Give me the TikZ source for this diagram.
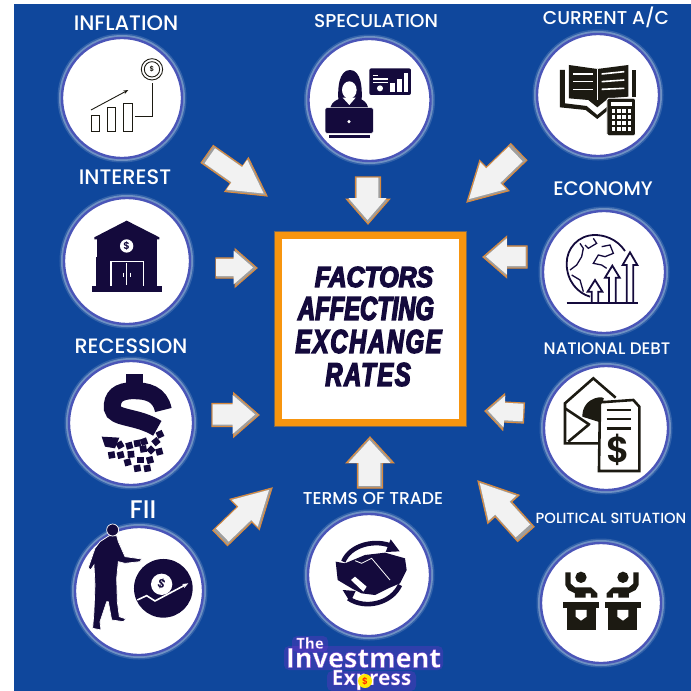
\documentclass[tikz,border=0pt]{standalone}
\usepackage{fontspec}
\usetikzlibrary{shapes.arrows,arrows.meta}
\newfontfamily\labelfont{Poppins Medium}
\newfontfamily\signfont{Poppins SemiBold}
\newfontfamily\titlefont[FakeStretch=0.72,FakeBold=4]{Liberation Sans}
\newfontfamily\logofont[BoldFeatures={FakeBold=1}]{Open Sans}
\definecolor{bgblue}{HTML}{0F479C}
\definecolor{ringblue}{HTML}{4A55B8}
\definecolor{boxorange}{HTML}{F7950F}
\definecolor{navyink}{HTML}{140A3C}
\definecolor{blackink}{HTML}{1C1A12}
\definecolor{arrowedge}{HTML}{D98A3D}
\definecolor{logoglow}{HTML}{7B2FD0}
\newcommand{\glowed}[1]{\special{pdf:bcolor [1 1 1] [0.48 0.18 0.81]}#1\special{pdf:ecolor}}
\tikzset{
  factor/.style={circle,fill=white,draw=ringblue,line width=2.4pt,inner sep=0pt,
    preaction={draw=white,opacity=.15,line width=9pt},
    preaction={draw=white,opacity=.3,line width=6pt}},
  factorlabel/.style={text=white,inner sep=0pt,font=\labelfont\fontsize{#1}{#1}\selectfont},
  flowarrow/.style={single arrow,anchor=tip,outer sep=0pt,inner xsep=0pt,fill=gray!75,draw=arrowedge,line width=1.1pt},
  flowtop/.style={single arrow,anchor=tip,outer sep=0pt,inner xsep=0pt,fill=gray!10,scale=.9},
  titleline/.style={text=navyink,inner sep=0pt,font=\titlefont\bfseries\itshape\fontsize{33}{33}\selectfont},
  logotext/.style={text=white,inner sep=0pt,font=\logofont},
  signtext/.style={inner sep=0pt,font=\signfont\fontsize{#1}{#1}\selectfont},
  zone/.style={scale=.3333,shift={#1}},
}
\newcommand{\podium}{
  \fill (655,770) rectangle (763,790);
  \fill (665,790) -- (752,790) -- (752,855) -- (665,855) -- cycle;
  \fill[white] (692,795) -- (725,795) -- (725,815) -- (708,827) -- (692,815) -- cycle;
  \fill (708,697) circle (17);
  \fill (661,682) -- (677,682) -- (677,716) -- (690,727) -- (738,727) -- (757,745) -- (757,758) -- (738,758) -- (738,745) -- (722,745) -- (722,758) -- (690,758) -- (690,745) -- (670,735) -- (661,720) -- cycle;
}
\begin{document}
\begin{tikzpicture}[x=1pt,y=-1pt]
  \useasboundingbox (0,0) rectangle (691,691);
  \fill[white] (0,0) rectangle (691,691);
  \fill[bgblue] (14,4) rectangle (691,691);

  % circles
  \foreach \nm/\x/\y/\d in {infl/122/98/120,spec/369.5/100/122,curr/598/95/122,
      inte/127/261/126,econ/604/272/122,rece/131/423/124,debt/606/428/124,
      fii/139/591/128,term/369/575/122,poli/601/603/120}
    \node[factor,minimum size=\d] (\nm) at (\x,\y) {};

  % centre box
  \node[rectangle,draw=boxorange,fill=white,line width=7pt,minimum width=184,minimum height=187,inner sep=0pt,
    preaction={draw=boxorange,opacity=.45,line width=9.5pt}] (centre) at (370.5,329) {};
  \node[titleline,xscale=1.19] (t1) at (374,277) {\fontsize{29}{29}\selectfont FACTORS};
  \node[titleline] (t2) at (366,308.5) {AFFECTING};
  \node[titleline] (t3) at (368.5,341.5) {\addfontfeature{LetterSpace=5}EXCHANGE};
  \node[titleline] (t4) at (368,374.5) {\addfontfeature{LetterSpace=5}RATES};

  % block arrows
  \foreach \nm/\x/\y/\ang/\len/\hw/\tw/\tip in {a1/267/196/-35/73/40/20/58,a2/368/224/-90/47/42/24/82,
      a3/467/202/-136/72/41/22/58,a4/257/268/0/41/37/19/82,a5/483/257/180/44/40/21/82,
      a6/259/415/0/47/43/22/82,a7/485/411/177/39/35/19/88,a8/272/488/44/72/41/20/58,
      a9/370/437/90/51/46/24/85,a10/478/481/132/71.5/41/21/58}{
    \pgfmathsetmacro\ext{(\hw-\tw)/2}
    \pgfmathsetmacro\half{\tw/2}
    \node[flowarrow,rotate=\ang,minimum height=\len,inner ysep=\half,single arrow head extend=\ext,single arrow tip angle=\tip] (\nm) at (\x,\y) {};
    \node[flowtop,rotate=\ang,minimum height=\len,inner ysep=\half,single arrow head extend=\ext,single arrow tip angle=\tip] (\nm-in) at ({\x-3.5*cos(\ang)-.5},{\y+3.5*sin(\ang)-.5}) {};
  }

  % labels
  \node[factorlabel=21] (linfl) at (126,23) {INFLATION};
  \node[factorlabel=18.6] (lspec) at (376,21) {SPECULATION};
  \node[factorlabel=18.6] (lcurr) at (606,17) {CURRENT A/C};
  \node[factorlabel=21] (linte) at (125,177) {INTEREST};
  \node[factorlabel=19.6] (lecon) at (603,189) {ECONOMY};
  \node[factorlabel=20.8] (lrece) at (131,346) {RECESSION};
  \node[factorlabel=16.7] (ldebt) at (607,349) {NATIONAL DEBT};
  \node[factorlabel=25.5] (lfii) at (143,510) {FII};
  \node[factorlabel=17.2] (lterm) at (373,498) {TERMS OF TRADE};
  \node[factorlabel=14.7] (lpoli) at (611,518) {POLITICAL SITUATION};

  % inflation icon
  \begin{scope}[zone={(0,0)},draw=blackink,line width=.9pt]
    \draw (273,347) rectangle (298,393);
    \draw (322,322) rectangle (347,393);
    \draw (371,309) rectangle (396,393);
    \draw[-{Stealth[length=5pt]}] (273,330) -- (385,270);
    \draw (405,350) -- (457,350) -- (457,250);
    \draw (456,208) circle (32);
    \draw (456,208) circle (23);
    \node[signtext=7,text=blackink] (coin) at (456,208) {\$};
  \end{scope}

  % speculation icon
  \begin{scope}[shift={(315,55)},scale=.3333,navyink]
    \fill[navyink] (72,155) .. controls (65,100) and (72,45) .. (105,45) .. controls (138,45) and (145,100) .. (138,155) -- cycle;
    \fill[navyink] (45,165) .. controls (48,135) and (75,128) .. (103,128) .. controls (135,128) and (158,135) .. (160,165) -- cycle;
    \fill[white] (103,105) ellipse (22 and 26);
    \fill[white] (83,128) -- (122,128) -- (103,150) -- cycle;
    \fill[navyink,draw=white,line width=.6pt,rounded corners=2pt] (30,158) rectangle (175,235);
    \fill[navyink] (42,240) rectangle (165,248);
    \fill[white] (102,200) circle (5);
    \fill[navyink,rounded corners=2pt] (163,40) rectangle (288,120);
    \fill[white] (173,60) rectangle (190,64);
    \fill[white] (173,70) rectangle (218,74);
    \fill[white] (173,80) rectangle (218,84);
    \fill[white] (195,100) circle (9);
    \fill[white] (225,85) rectangle (240,110);
    \fill[white] (247,72) rectangle (260,110);
    \fill[white] (266,55) rectangle (278,110);
  \end{scope}

  % current account icon
  \begin{scope}[zone={(1035,0)}]
    \fill[blackink] (672,195) -- (757,207) -- (850,195) -- (850,290) -- (790,295) -- (757,322) -- (730,300) -- (672,295) -- cycle;
    \foreach \ya/\yb in {222/215,245/240,268/265}{
      \draw[white,line width=1.6pt] (685,\ya) -- (745,\ya);
      \draw[white,line width=1.6pt] (770,\ya) -- (838,\yb);
    }
    \draw[white,line width=1.4pt] (757,207) -- (757,300);
    \fill[blackink] (645,210) -- (660,210) -- (660,310) -- (725,318) -- (757,345) -- (790,318) -- (790,330) -- (757,357) -- (722,330) -- (645,322) -- cycle;
    \fill[blackink] (860,210) rectangle (872,290);
    \fill[blackink,draw=white,line width=.8pt,rounded corners=1.5pt] (786,295) rectangle (872,407);
    \fill[white] (798,305) rectangle (862,318);
    \foreach \i in {0,1,2,3} \foreach \j in {0,1,2,3}
      \fill[white] (800+\i*16,326+\j*18) rectangle (811+\i*16,338+\j*18);
  \end{scope}

  % bank icon
  \begin{scope}[zone={(0,0)}]
    \fill[navyink] (283,712) -- (380,662) -- (478,712) -- (478,718) -- (283,718) -- cycle;
    \fill[navyink] (290,718) rectangle (470,770);
    \fill[navyink] (288,770) rectangle (472,858);
    \fill[navyink] (275,858) rectangle (487,877);
    \fill[white] (380,738) circle (20);
    \node[signtext=10,text=navyink] (bankcoin) at (380,738) {\$};
    \draw[white,line width=1.5pt] (333,858) -- (333,785) -- (430,785) -- (430,858);
    \draw[white,line width=1pt] (381,790) -- (381,855);
    \draw[white,line width=1pt] (370,818) -- (370,832) (392,818) -- (392,832);
  \end{scope}

  % economy icon
  \begin{scope}[shift={(560,225)},scale=.3333,draw=navyink,line width=1.8pt,line join=miter]
    \draw (195,78) .. controls (170,40) and (130,30) .. (105,30) .. controls (55,30) and (20,70) .. (20,115) .. controls (20,170) and (55,205) .. (90,215);
    \draw[line width=1.3pt] (60,55) -- (70,70) -- (65,95) -- (50,120) -- (30,135);
    \draw[line width=1.3pt] (100,40) -- (110,55) -- (85,70) -- (75,60);
    \draw[line width=1.3pt] (125,65) -- (150,60) -- (160,85) -- (135,95) -- (115,90) -- (100,115) -- (125,120) -- (140,130);
    \draw[line width=1.3pt] (35,150) -- (60,165) -- (70,200);
    \foreach \c/\t/\b in {105/165/200,157/122/158,210/82/120}
      \draw[fill=white] (\c-10,233) -- (\c-10,\b) -- (\c-22,\b) -- (\c,\t) -- (\c+22,\b) -- (\c+10,\b) -- (\c+10,233);
    \draw (20,235) -- (235,235);
  \end{scope}

  % recession icon
  \begin{scope}[shift={(0,345)},scale=.3333]
    \fill[navyink] (378,87) rectangle (428,122);
    \draw[navyink,line width=17pt] (490,195) .. controls (480,145) and (440,137) .. (400,137) .. controls (355,137) and (335,155) .. (337,190) .. controls (342,222) and (410,212) .. (472,250);
    \fill[navyink] (305,275) -- (358,278) -- (345,310) -- (315,305) -- cycle;
    \foreach \x/\y/\r in {360/300/30,388/302/15,412/295/10,432/290/20,480/268/25,468/290/40,430/312/10,453/315/45,478/320/15,335/330/10,362/330/15,393/328/5,383/352/15,422/345/0,450/345/15,412/370/10,442/370/10}
      \fill[navyink,shift={(\x,\y)},rotate=\r] (-10,-10) rectangle (10,10);
  \end{scope}

  % national debt icon
  \begin{scope}[shift={(345,345)},scale=.3333,draw=blackink,line width=2.6pt]
    \draw (765,295) -- (660,295) -- (660,175) -- (745,100) -- (812,158);
    \draw (660,190) -- (735,240) (670,290) -- (730,240);
    \fill[blackink] (712,215) .. controls (712,150) and (790,150) .. (775,165) -- (775,235) -- cycle;
    \draw[fill=white] (765,172) -- (865,165) -- (883,185) -- (883,378) -- (762,378) -- cycle;
    \draw (785,195) -- (858,195) (785,222) -- (858,222) (785,250) -- (858,250);
    \node[signtext=36,text=blackink] (debtsign) at (820,315) {\$};
  \end{scope}

  % fii icon
  \begin{scope}[shift={(0,345)},scale=.3333]
    \fill[navyink,draw=white,line width=.7pt] (328,572) -- (350,572) -- (355,590) -- (375,635) -- (425,642) -- (420,650) -- (375,655) -- (355,650) -- (350,700) -- (352,770) -- (358,815) -- (378,822) -- (370,830) -- (335,825) -- (325,770) -- (320,770) -- (300,830) -- (303,855) -- (278,850) -- (282,800) -- (285,720) -- (282,660) -- (272,675) -- (265,668) -- (285,610) -- (300,590) -- cycle;
    \fill[navyink,draw=white,line width=.7pt] (338,555) circle (18);
    \fill[navyink] (490,730) circle (88);
    \fill[white] (485,718) circle (32);
    \node[signtext=12,text=navyink,rotate=-20] (fiicoin) at (485,718) {\$};
    \draw[white,line width=1.6pt,-{Stealth[length=6pt]}] (412,765) -- (440,752) -- (465,768) -- (565,715);
  \end{scope}

  % terms of trade icon
  \begin{scope}[shift={(325,530)},scale=.3333]
    \draw[navyink,line width=4.6pt] (55,95) .. controls (75,45) and (150,25) .. (205,50);
    \fill[navyink] (197,28) -- (224,64) -- (182,66) -- cycle;
    \draw[navyink,line width=4.6pt] (225,165) .. controls (200,220) and (120,240) .. (70,205);
    \fill[navyink] (53,180) -- (92,183) -- (76,217) -- cycle;
    \fill[navyink] (32,95) -- (60,100) -- (120,75) -- (180,68) -- (240,85) -- (245,120) -- (225,160) -- (190,175) -- (150,195) -- (110,190) -- (80,175) -- (38,150) -- cycle;
    \draw[white,line width=.8pt] (90,92) -- (110,100) -- (140,85) -- (195,150);
    \fill[white] (78,150) -- (90,140) -- (125,170) -- (115,185) -- cycle;
  \end{scope}

  % political icon
  \begin{scope}[shift={(345,345)},scale=.3333,blackink]
    \podium
    \begin{scope}[cm={-1,0,0,1,(1542,0)}]
      \podium
    \end{scope}
  \end{scope}

  % logo
  \fill[logoglow,opacity=.3,rounded corners=5pt] (292,636) rectangle (328,652);
  \fill[logoglow,opacity=.3,rounded corners=5pt] (284,646) rectangle (443,670);
  \fill[logoglow,opacity=.3,rounded corners=5pt] (327,671) rectangle (416,691);
  \node[logotext,font=\logofont\bfseries\fontsize{15}{15}\selectfont] (logo1) at (310,643) {\glowed{The}};
  \node[logotext,font=\logofont\bfseries\fontsize{27}{27}\selectfont] (logo2) at (363.5,658) {\glowed{Investment}};
  \node[logotext,font=\logofont\bfseries\fontsize{21}{21}\selectfont] (logo3) at (371.5,680) {\glowed{Express}};
  \fill[yellow!90!orange] (365,681) circle (7);
  \node[signtext=9,text=red!70!orange] (logocoin) at (365,681) {\$};
\end{tikzpicture}
\end{document}
